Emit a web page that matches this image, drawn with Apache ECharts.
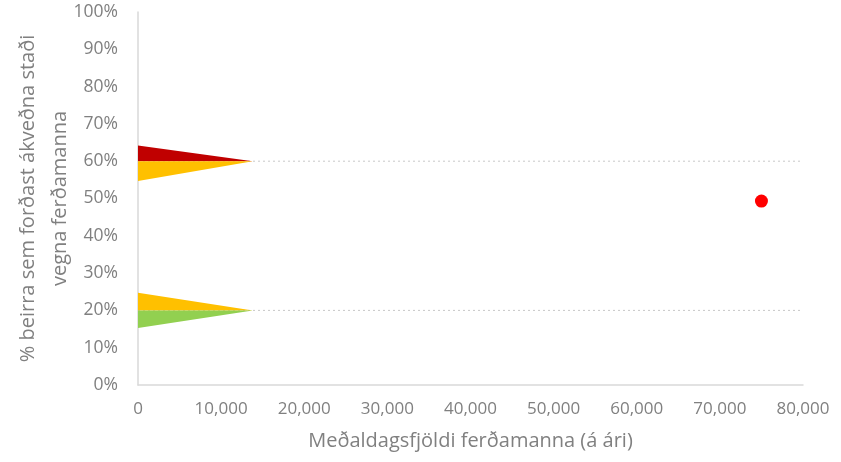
<!DOCTYPE html>
<html><head><meta charset="utf-8">
<script src="https://cdn.jsdelivr.net/npm/echarts@6/dist/echarts.min.js"></script>
<style>html,body{margin:0;padding:0;background:#fff}#c{width:841px;height:462px}</style>
</head><body><div id="c"></div>
<script>
// Data
const xTicks = [0, 10000, 20000, 30000, 40000, 50000, 60000, 70000, 80000];
const yTicks = [0, 10, 20, 30, 40, 50, 60, 70, 80, 90, 100];
// Triangles: [visitors, percent]
const redTriangleHigh = [[0, 64.2], [0, 60], [13800, 60]];
const yellowTriangleHigh = [[0, 60], [0, 54.7], [13800, 60]];
const yellowTriangleLow = [[0, 24.7], [0, 20], [13800, 20]];
const greenTriangleLow = [[0, 20], [0, 15.3], [13800, 20]];
const thresholdHigh = [[0, 60], [80000, 60]];
const thresholdLow = [[0, 20], [80000, 20]];
const sitePoint = [[75000, 49.3]];

const textColor = '#808080';
const font = 'Open Sans';

function triSeries(pts, color) {
  return {
    type: 'custom',
    coordinateSystem: 'cartesian2d',
    data: [0],
    z: 3,
    renderItem: function (params, api) {
      return {
        type: 'polygon',
        shape: { points: pts.map(p => api.coord(p)) },
        style: { fill: color }
      };
    }
  };
}
function lineSeries(pts) {
  return {
    type: 'line', data: pts, symbol: 'none', z: 2,
    lineStyle: { color: '#c8c8c8', width: 1, type: [2, 3] }
  };
}

const chart = echarts.init(document.getElementById('c'), null, { renderer: 'canvas' });
chart.setOption({
  animation: false,
  grid: { left: 138, right: 38, top: 12, bottom: 77, containLabel: false, outerBoundsMode: 'none' },
  xAxis: {
    type: 'value', min: xTicks[0], max: xTicks[xTicks.length - 1], interval: 10000,
    name: 'Meðaldagsfjöldi ferðamanna (á ári)', nameLocation: 'middle', nameGap: 46,
    nameTextStyle: { color: textColor, fontSize: 20, fontFamily: font },
    axisLine: { show: true, lineStyle: { color: '#d9d9d9', width: 1.5 } },
    axisTick: { show: false },
    splitLine: { show: false },
    axisLabel: { color: textColor, fontSize: 17, fontFamily: font, margin: 16,
      formatter: v => v.toLocaleString('en-US') }
  },
  yAxis: {
    type: 'value', min: yTicks[0], max: yTicks[yTicks.length - 1], interval: 10,
    name: '% beirra sem forðast ákveðna staði\nvegna ferðamanna', nameLocation: 'middle', nameGap: 62,
    nameMoveOverlap: false,
    nameTextStyle: { color: textColor, fontSize: 20, fontFamily: font, lineHeight: 32 },
    axisLine: { show: true, lineStyle: { color: '#d9d9d9', width: 1.5 } },
    axisTick: { show: false },
    splitLine: { show: false },
    axisLabel: { color: textColor, fontSize: 17.5, fontFamily: font, margin: 20,
      formatter: v => v + '%' }
  },
  series: [
    lineSeries(thresholdHigh),
    lineSeries(thresholdLow),
    triSeries(redTriangleHigh, '#c00000'),
    triSeries(yellowTriangleHigh, '#ffc000'),
    triSeries(yellowTriangleLow, '#ffc000'),
    triSeries(greenTriangleLow, '#92d050'),
    { type: 'scatter', data: sitePoint, symbolSize: 13, z: 4,
      itemStyle: { color: '#ff0000', opacity: 1 } }
  ]
});
</script></body></html>
